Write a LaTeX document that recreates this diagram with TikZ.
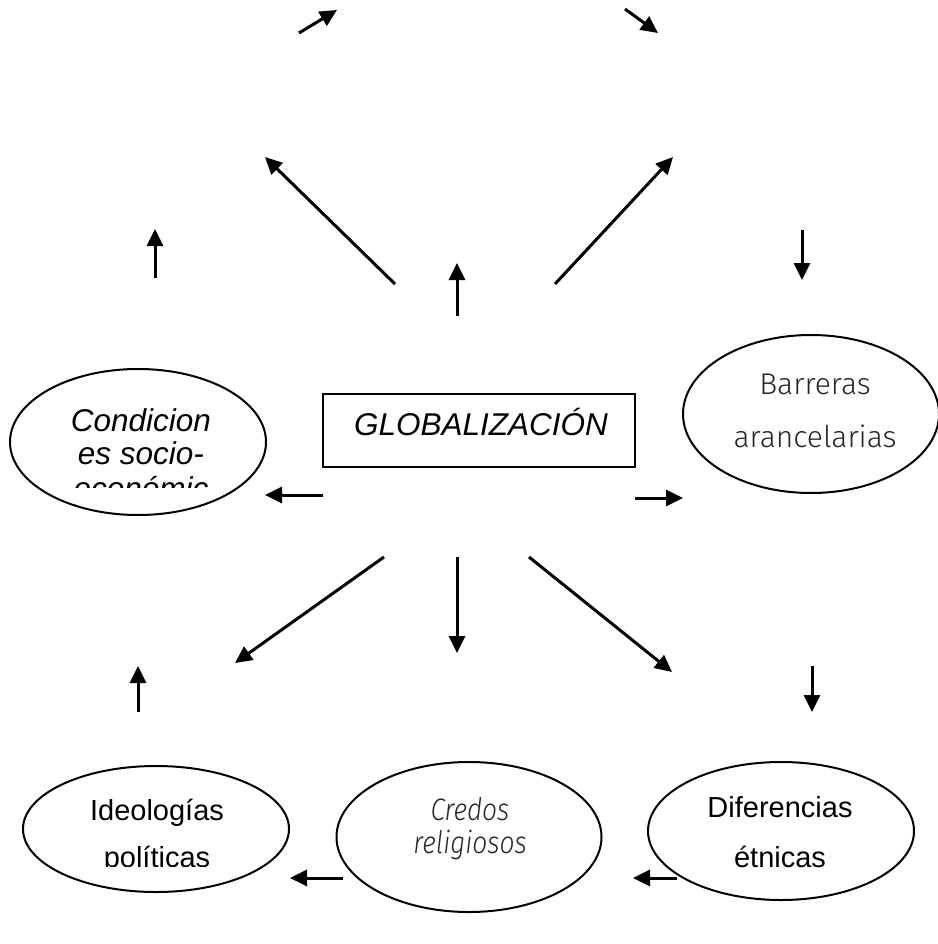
\documentclass[tikz,border=0pt]{standalone}
\usepackage{fontspec}
\setmainfont{Liberation Sans}
\newfontfamily\lightfont{Fira Sans Light}
\usetikzlibrary{arrows.meta,shapes.geometric}

\begin{document}
\begin{tikzpicture}[x=1pt,y=-1pt,
  bubble/.style={draw,line width=2pt,ellipse,inner sep=0pt},
  framebox/.style={draw,line width=2.2pt,inner sep=0pt},
  linktip/.style={-{Triangle[length=17pt,width=16pt]},line width=3pt},
  plainlbl/.style={anchor=base,inner sep=0pt,font=\fontsize{29}{29}\selectfont},
  italbl/.style={anchor=base,inner sep=0pt,font=\fontsize{31.5}{31.5}\selectfont\itshape},
  thinlbl/.style={anchor=base,inner sep=0pt,text=black!85,font=\fontsize{30}{30}\selectfont\lightfont},
  thinital/.style={anchor=base,inner sep=0pt,text=black!85,font=\fontsize{31}{31}\selectfont\lightfont\itshape}]
\useasboundingbox (0,0) rectangle (937,944);

% central box
\node[framebox,minimum width=312pt,minimum height=73pt] (glob) at (479,430.5) {};
\node[italbl] (globtxt) at (481,435) {GLOBALIZACIÓN};

% ellipses
\node[bubble,minimum width=256pt,minimum height=146pt] (cond) at (138,442) {};
\node[bubble,minimum width=256pt,minimum height=158pt] (barr) at (811,414) {};
\node[bubble,minimum width=266pt,minimum height=126pt] (ideo) at (156,829) {};
\node[bubble,minimum width=265pt,minimum height=150pt] (cred) at (469,837) {};
\node[bubble,minimum width=266pt,minimum height=138pt] (dife) at (781,831) {};

% labels, some cut off by their text frame
\node[italbl] (cond1) at (141,431) {Condicion};
\node[italbl] (cond2) at (141,464) {es socio-};
\begin{scope}
  \clip (40,470) rectangle (240,487);
  \node[italbl] (cond3) at (141,499) {económic};
\end{scope}

\node[thinlbl] (barr1) at (815,394) {Barreras};
\node[thinlbl] (barr2) at (815,447) {arancelarias};

\node[plainlbl] (ideo1) at (157,820) {Ideologías};
\begin{scope}
  \clip (60,840) rectangle (260,866);
  \node[plainlbl] (ideo2) at (157,867) {políticas};
\end{scope}

\node[thinital] (cred1) at (470,820) {\scalebox{0.85}[1]{Credos}};
\node[thinital] (cred2) at (470,853) {\scalebox{0.85}[1]{religiosos}};

\node[plainlbl] (dife1) at (780,817) {Diferencias};
\node[plainlbl] (dife2) at (780,867) {étnicas};

% arrows: tail and head points
\foreach \n/\sx/\sy/\ex/\ey in {
   1/299/33/337/10,
   2/625/9/658/33,
   3/395/284/265/157,
   4/457/316/457/263,
   5/555/284/673/157,
   6/155/278/155/229,
   7/802/230/802/280,
   8/323/495/265/495,
   9/635/498/683/498,
  10/384/557/235/663,
  11/457/557/457/653,
  12/529/557/672/672,
  13/138/712/138/666,
  14/812/666/812/712,
  15/343/878/290/878,
  16/677/878/633/878}{
  \coordinate (tail\n) at (\sx,\sy);
  \coordinate (head\n) at (\ex,\ey);
  \draw[linktip] (tail\n) -- (head\n);
}
\end{tikzpicture}
\end{document}
